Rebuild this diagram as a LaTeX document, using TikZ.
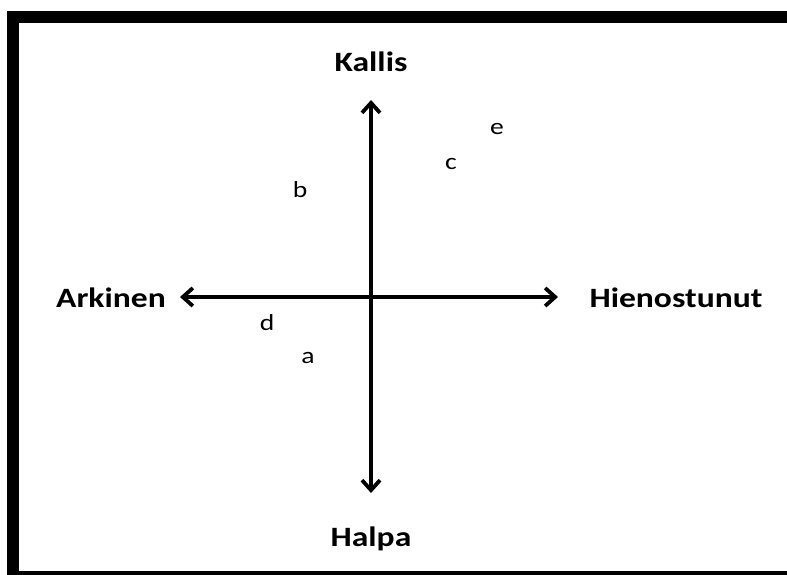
\documentclass[tikz,border=0pt]{standalone}
\usepackage{fontspec}
\setmainfont{Carlito}[FakeStretch=1.2]
\usetikzlibrary{arrows.meta}
\tikzset{
  axislabel/.style={font=\fontsize{28}{32}\selectfont\bfseries, inner sep=0pt, anchor=center},
  itemlabel/.style={font=\fontsize{23}{27}\selectfont, inner sep=0pt, anchor=center},
  axisline/.style={line width=3.8pt, {Straight Barb[length=10pt,width=18pt]}-{Straight Barb[length=10pt,width=18pt]}},
  frameband/.style={fill=black, draw=none}
}
\begin{document}
\begin{tikzpicture}[x=1pt,y=-1pt]
\useasboundingbox (0,0) rectangle (787,575);
% frame
\fill[frameband] (7,11) rectangle (787,23);
\fill[frameband] (7,11) rectangle (19,575);
\fill[frameband] (7,571) rectangle (787,575);
% axes
\coordinate (top) at (371,100);
\coordinate (bottom) at (371,493);
\coordinate (left) at (180,297);
\coordinate (right) at (558,297);
\draw[axisline] (left) -- (right);
\draw[axisline] (bottom) -- (top);
% axis labels
\node[axislabel] (kallis) at (371,62) {Kallis};
\node[axislabel] (halpa) at (371,539) {Halpa};
\node[axislabel] (arkinen) at (111,298) {Arkinen};
\node[axislabel] (hieno) at (676,298) {Hienostunut};
% items
\node[itemlabel] (b) at (300,190) {b};
\node[itemlabel] (c) at (451,164) {c};
\node[itemlabel] (e) at (497,129) {e};
\node[itemlabel] (d) at (267,323) {d};
\node[itemlabel] (a) at (308,358) {a};
\end{tikzpicture}
\end{document}
